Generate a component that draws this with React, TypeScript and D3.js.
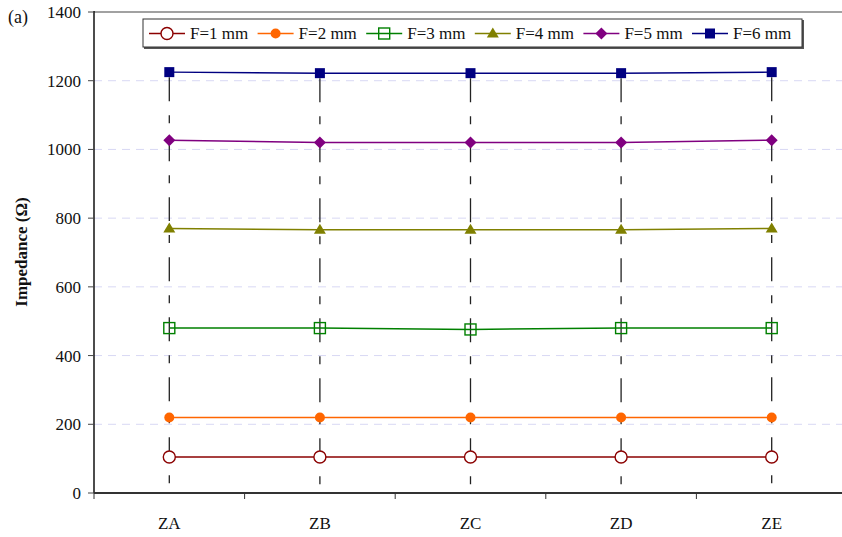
import React from "react";
import * as d3 from "d3";

// categories and series values
const categories = ["ZA", "ZB", "ZC", "ZD", "ZE"];
const seriesNames = ["F=1 mm", "F=2 mm", "F=3 mm", "F=4 mm", "F=5 mm", "F=6 mm"];
const f1 = [105, 105, 105, 105, 105];
const f2 = [220, 220, 220, 220, 220];
const f3 = [480, 480, 476, 480, 480];
const f4 = [770, 766, 766, 766, 770];
const f5 = [1027, 1020, 1020, 1020, 1027];
const f6 = [1225, 1222, 1222, 1222, 1225];
const yTicks = [0, 200, 400, 600, 800, 1000, 1200, 1400];
// vertical dashed guide runs from this value up to the top series
const guideBottom = 15;

const colors = ["#8b0000", "#ff6600", "#008000", "#808000", "#800080", "#000080"];
const symbols = ["circleOpen", "circleFill", "squareOpen", "triangle", "diamond", "squareFill"];

const W = 842;
const H = 537;
const margin = { top: 12, left: 94, bottom: 44 };
const font = "'Liberation Serif', 'Times New Roman', Times, serif";

function Marker({ kind, color, x, y }: { kind: string; color: string; x: number; y: number }) {
  if (kind === "circleOpen")
    return <circle cx={x} cy={y} r={6} fill="white" stroke={color} strokeWidth={1.4} />;
  if (kind === "circleFill") return <circle cx={x} cy={y} r={5} fill={color} />;
  if (kind === "squareOpen")
    return <rect x={x - 5.5} y={y - 5.5} width={11} height={11} fill="none" stroke={color} strokeWidth={1.4} />;
  if (kind === "squareFill") return <rect x={x - 5} y={y - 5} width={10} height={10} fill={color} />;
  if (kind === "triangle")
    return <path d={`M${x},${y - 6}L${x + 6},${y + 4}L${x - 6},${y + 4}Z`} fill={color} />;
  return <path d={`M${x},${y - 6}L${x + 6},${y}L${x},${y + 6}L${x - 6},${y}Z`} fill={color} />;
}

export default function App() {
  const series = [f1, f2, f3, f4, f5, f6];
  const x = d3.scaleBand<string>().domain(categories).range([margin.left, 847]).padding(0);
  const y = d3.scaleLinear().domain([0, 1400]).range([H - margin.bottom, margin.top]);
  const cx = (c: string) => (x(c) as number) + x.bandwidth() / 2;
  const line = d3
    .line<number>()
    .x((_, i) => cx(categories[i]))
    .y((d) => y(d));
  const y0 = y(0);

  return (
    <svg
      width={W}
      height={H}
      style={{ position: "absolute", left: 0, top: 0, background: "white", fontFamily: font }}
    >
      {/* grid */}
      {yTicks.slice(1, -1).map((t) => (
        <line key={t} x1={margin.left} x2={W} y1={y(t)} y2={y(t)} stroke="#d8d8f4" strokeDasharray="8,6" />
      ))}
      {/* top border */}
      <line x1={margin.left} x2={W} y1={y(1400)} y2={y(1400)} stroke="#444" strokeWidth={1.2} />
      {/* vertical dashed guides */}
      {categories.map((c, i) => (
        <line
          key={c}
          x1={cx(c)}
          x2={cx(c)}
          y1={y(f6[i])}
          y2={y(guideBottom)}
          stroke="#222"
          strokeWidth={1.3}
          strokeDasharray="24,14,8,14"
          strokeDashoffset={55}
        />
      ))}
      {/* series lines */}
      {series.map((s, k) => (
        <path key={k} d={line(s) || ""} fill="none" stroke={colors[k]} strokeWidth={1.5} />
      ))}
      {series.map((s, k) =>
        s.map((v, i) => <Marker key={k + "-" + i} kind={symbols[k]} color={colors[k]} x={cx(categories[i])} y={y(v)} />)
      )}
      {/* y axis */}
      <line x1={margin.left} x2={margin.left} y1={y(1400) - 1} y2={y0} stroke="#111" strokeWidth={1.5} />
      {yTicks.map((t) => (
        <g key={t}>
          <line x1={margin.left - 6} x2={margin.left} y1={y(t)} y2={y(t)} stroke="#444" />
          <text x={margin.left - 13} y={y(t)} dy="0.35em" textAnchor="end" fontSize={17} fill="#111">
            {t}
          </text>
        </g>
      ))}
      {/* x axis */}
      <line x1={margin.left} x2={W} y1={y0} y2={y0} stroke="#333" strokeWidth={2} />
      {categories.map((c) => (
        <line key={c} x1={x(c) as number} x2={x(c) as number} y1={y0} y2={y0 + 6} stroke="#333" />
      ))}
      {categories.map((c) => (
        <text key={c} x={cx(c)} y={y0 + 36} textAnchor="middle" fontSize={17} fill="#111">
          {c}
        </text>
      ))}
      {/* axis title */}
      <text transform="translate(27,252) rotate(-90)" textAnchor="middle" fontSize={17} fontWeight="bold" fill="#111">
        Impedance (Ω)
      </text>
      <text x={8} y={23} fontSize={18} fill="#111">
        (a)
      </text>
      {/* legend */}
      <rect x={144} y={20} width={660} height={29} fill="#555" />
      <rect x={143} y={19} width={659} height={28} fill="white" stroke="#333" strokeWidth={1} />
      {seriesNames.map((n, k) => {
        const mx = 167 + k * 108.6;
        return (
          <g key={n}>
            <line x1={mx - 18} x2={mx + 18} y1={33.5} y2={33.5} stroke={colors[k]} strokeWidth={1.5} />
            <Marker kind={symbols[k]} color={colors[k]} x={mx} y={33.5} />
            <text x={mx + 23} y={33.5} dy="0.35em" fontSize={17} fill="#111">
              {n}
            </text>
          </g>
        );
      })}
    </svg>
  );
}
